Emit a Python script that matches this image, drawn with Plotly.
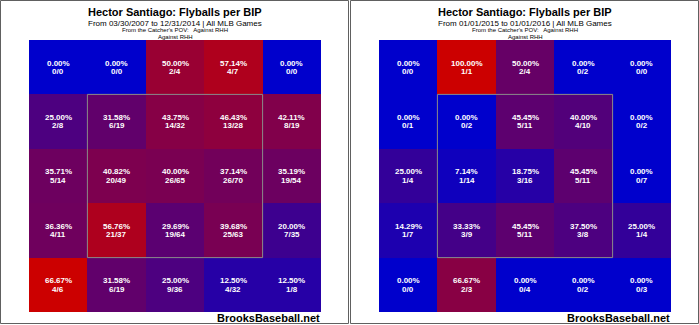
import plotly.graph_objects as go

W, H = 699, 325

# ---------------- data ----------------
panel_titles = ["Hector Santiago: Flyballs per BIP", "Hector Santiago: Flyballs per BIP"]
panel_subtitles = ["From 03/30/2007 to 12/31/2014 | All MLB Games",
                   "From 01/01/2015 to 01/01/2016 | All MLB Games"]
pov_line = "From the Catcher's POV:   Against RHH"
hand_line = "Against RHH"
credit = "BrooksBaseball.net"

# rows top -> bottom, columns left -> right
left_fb = [[0, 0, 2, 4, 0],
           [2, 6, 14, 13, 8],
           [5, 20, 26, 26, 19],
           [4, 21, 19, 25, 7],
           [4, 6, 9, 4, 1]]
left_bip = [[0, 0, 4, 7, 0],
            [8, 19, 32, 28, 19],
            [14, 49, 65, 70, 54],
            [11, 37, 64, 63, 35],
            [6, 19, 36, 32, 8]]

right_fb = [[0, 1, 2, 0, 0],
            [0, 0, 5, 4, 0],
            [1, 1, 3, 5, 0],
            [1, 3, 5, 3, 1],
            [0, 2, 0, 0, 0]]
right_bip = [[0, 1, 4, 2, 0],
             [1, 2, 11, 10, 2],
             [4, 14, 16, 11, 7],
             [7, 9, 11, 8, 4],
             [0, 3, 4, 2, 3]]

panels = [(left_fb, left_bip), (right_fb, right_bip)]

# ---------------- layout geometry (pixels) ----------------
hm_x = [(29, 321), (379, 671)]
hm_top, hm_bot = 40, 312
panel_x = [(0.5, 348.5), (350.5, 698.5)]
FONT = "Liberation Sans, Arial"

def px(x):
    return x / W

def py(y):
    return 1 - y / H

fig = go.Figure()
annotations = []
shapes = []

for i, (fb, bip) in enumerate(panels):
    pct = [[(f / b * 100 if b else 0.0) for f, b in zip(fr, br)] for fr, br in zip(fb, bip)]
    zmax = max(max(r) for r in pct)
    xa = "x" if i == 0 else "x2"
    ya = "y" if i == 0 else "y2"
    fig.add_trace(go.Heatmap(
        z=pct, x=list(range(5)), y=list(range(5)),
        xaxis=xa, yaxis=ya,
        zmin=0, zmax=zmax,
        colorscale=[[0, "rgb(0,0,204)"], [1, "rgb(204,0,0)"]],
        showscale=False, hoverinfo="skip", xgap=0, ygap=0,
    ))
    for r in range(5):
        for c in range(5):
            annotations.append(dict(
                x=c, y=r, xref=xa, yref=ya, text="%.2f%%" % pct[r][c],
                showarrow=False, yshift=4.2, xanchor="center", yanchor="middle",
                font=dict(family=FONT, size=8, color="white", weight="bold")))
            annotations.append(dict(
                x=c, y=r, xref=xa, yref=ya, text="%d/%d" % (fb[r][c], bip[r][c]),
                showarrow=False, yshift=-4.2, xanchor="center", yanchor="middle",
                font=dict(family=FONT, size=8, color="white", weight="bold")))
    # strike zone
    shapes.append(dict(type="rect", xref=xa, yref=ya, x0=0.5, x1=3.5, y0=0.5, y1=3.5,
                       line=dict(color="#8a8a8a", width=1)))
    # panel border
    shapes.append(dict(type="rect", xref="paper", yref="paper",
                       x0=px(panel_x[i][0]), x1=px(panel_x[i][1]),
                       y0=py(323.5), y1=py(0.5),
                       line=dict(color="#606060", width=1)))
    cx = px((hm_x[i][0] + hm_x[i][1]) / 2)
    common = dict(xref="paper", yref="paper", showarrow=False, xanchor="center", yanchor="middle")
    annotations += [
        dict(x=cx, y=py(12.5), text=panel_titles[i],
             font=dict(family=FONT, size=11, color="black", weight="bold"), **common),
        dict(x=cx, y=py(23.5), text=panel_subtitles[i],
             font=dict(family=FONT, size=8, color="black"), **common),
        dict(x=cx, y=py(30.5), text=pov_line,
             font=dict(family=FONT, size=6, color="black"), **common),
        dict(x=cx, y=py(37), text=hand_line,
             font=dict(family=FONT, size=6, color="black"), **common),
        dict(x=px(hm_x[i][1] + 1), y=py(318), text=credit,
             xref="paper", yref="paper", showarrow=False, xanchor="right", yanchor="middle",
             font=dict(family=FONT, size=11, color="black", weight="bold")),
    ]

ax_common = dict(showgrid=False, zeroline=False, showticklabels=False, ticks="", showline=False,
                 fixedrange=True)
fig.update_layout(
    width=W, height=H, margin=dict(l=0, r=0, t=0, b=0),
    paper_bgcolor="white", plot_bgcolor="white",
    xaxis=dict(domain=[px(hm_x[0][0]), px(hm_x[0][1])], range=[-0.5, 4.5], anchor="y", **ax_common),
    xaxis2=dict(domain=[px(hm_x[1][0]), px(hm_x[1][1])], range=[-0.5, 4.5], anchor="y2", **ax_common),
    yaxis=dict(domain=[py(hm_bot), py(hm_top)], range=[4.5, -0.5], anchor="x", **ax_common),
    yaxis2=dict(domain=[py(hm_bot), py(hm_top)], range=[4.5, -0.5], anchor="x2", **ax_common),
    annotations=annotations, shapes=shapes, showlegend=False,
)

fig.write_html("out.html")
